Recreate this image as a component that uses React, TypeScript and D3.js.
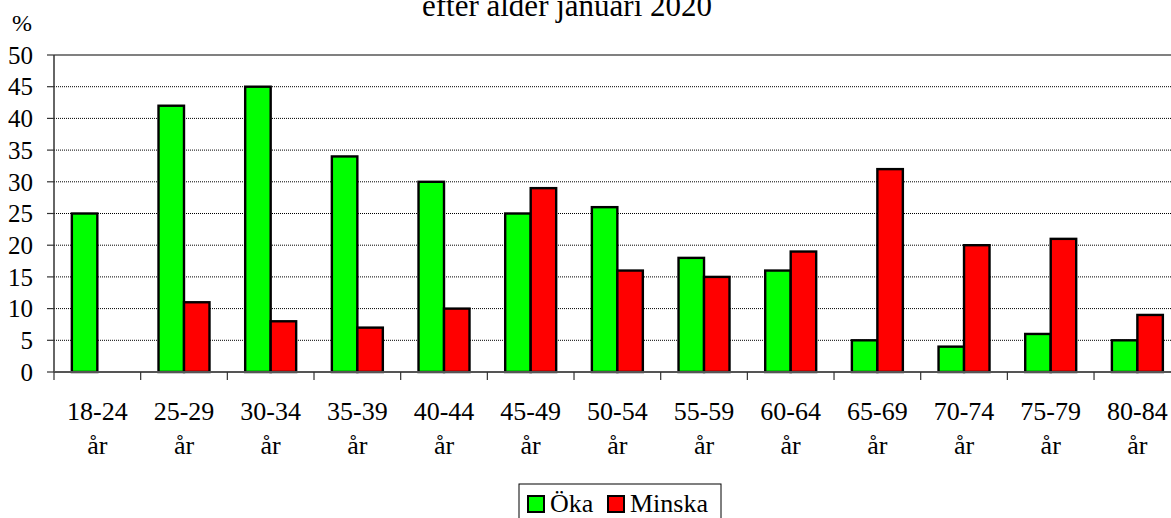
import React from 'react';
import { scaleBand, scaleLinear } from 'd3';

const categories = ['18-24', '25-29', '30-34', '35-39', '40-44', '45-49', '50-54', '55-59', '60-64', '65-69', '70-74', '75-79', '80-84'];
const okaValues: (number | null)[] = [25, 42, 45, 34, 30, 25, 26, 18, 16, 5, 4, 6, 5];
const minskaValues: (number | null)[] = [null, 11, 8, 7, 10, 29, 16, 15, 19, 32, 20, 21, 9];
const yTicks = [0, 5, 10, 15, 20, 25, 30, 35, 40, 45, 50];
const seriesNames = ['Öka', 'Minska'];
const seriesColors = ['#00ff00', '#ff0000'];

const W = 1171, H = 518;
const left = 54, top = 55, bottom = 372;
const right = left + 13 * 86.67;
const font = "'Liberation Serif', 'Times New Roman', 'DejaVu Serif', serif";

export default function App() {
  const x = scaleBand<string>().domain(categories).range([left, right]).padding(0);
  const inner = scaleBand<string>().domain(seriesNames).range([0, x.bandwidth()]).paddingInner(0).paddingOuter(0.7);
  const y = scaleLinear().domain([0, 50]).range([bottom, top]);
  const series = [okaValues, minskaValues];

  return (
    <svg width={W} height={H} style={{ position: 'absolute', left: 0, top: 0, background: '#fff', fontFamily: font }}>
      <text x={567} y={16} fontSize={31} textAnchor="middle">efter ålder januari 2020</text>
      <text x={22} y={31} fontSize={24} textAnchor="middle">%</text>

      {/* gridlines */}
      {yTicks.filter(t => t > 0 && t < 50).map(t => (
        <line key={t} x1={left} x2={right} y1={y(t)} y2={y(t)} stroke="#000" strokeWidth={1} strokeDasharray="1,1" />
      ))}
      <line x1={left} x2={right} y1={y(50)} y2={y(50)} stroke="#808080" strokeWidth={2} />

      {/* bars */}
      {series.map((vals, si) =>
        vals.map((v, i) => v == null ? null : (
          <rect key={`${si}-${i}`}
            x={(x(categories[i]) ?? 0) + (inner(seriesNames[si]) ?? 0)}
            y={y(v)}
            width={inner.bandwidth()}
            height={y(0) - y(v)}
            fill={seriesColors[si]} stroke="#000" strokeWidth={2.4} />
        ))
      )}

      {/* y axis */}
      <line x1={left} x2={left} y1={top} y2={bottom} stroke="#333" strokeWidth={1.5} />
      {yTicks.map(t => (
        <g key={t}>
          <line x1={left - 7} x2={left} y1={y(t)} y2={y(t)} stroke="#333" strokeWidth={1.2} />
          <text x={33} y={y(t)} dy="0.35em" fontSize={25} textAnchor="end">{t}</text>
        </g>
      ))}

      {/* x axis */}
      <line x1={left} x2={right} y1={bottom} y2={bottom} stroke="#555" strokeWidth={2} />
      {categories.map(c => (
        <line key={'t' + c} x1={x(c)} x2={x(c)} y1={bottom} y2={bottom + 8} stroke="#333" strokeWidth={1.2} />
      ))}
      {categories.map(c => {
        const cx = (x(c) ?? 0) + x.bandwidth() / 2;
        return (
          <g key={'l' + c}>
            <text x={cx} y={420} fontSize={26} textAnchor="middle">{c}</text>
            <text x={cx} y={454} fontSize={26} textAnchor="middle">år</text>
          </g>
        );
      })}

      {/* legend */}
      <rect x={519} y={484} width={202} height={42} fill="#fff" stroke="#000" strokeWidth={1} />
      <rect x={528} y={496} width={16} height={16} fill={seriesColors[0]} stroke="#000" strokeWidth={2} />
      <text x={550} y={512} fontSize={26}>{seriesNames[0]}</text>
      <rect x={608} y={496} width={16} height={16} fill={seriesColors[1]} stroke="#000" strokeWidth={2} />
      <text x={630} y={512} fontSize={26}>{seriesNames[1]}</text>
    </svg>
  );
}
